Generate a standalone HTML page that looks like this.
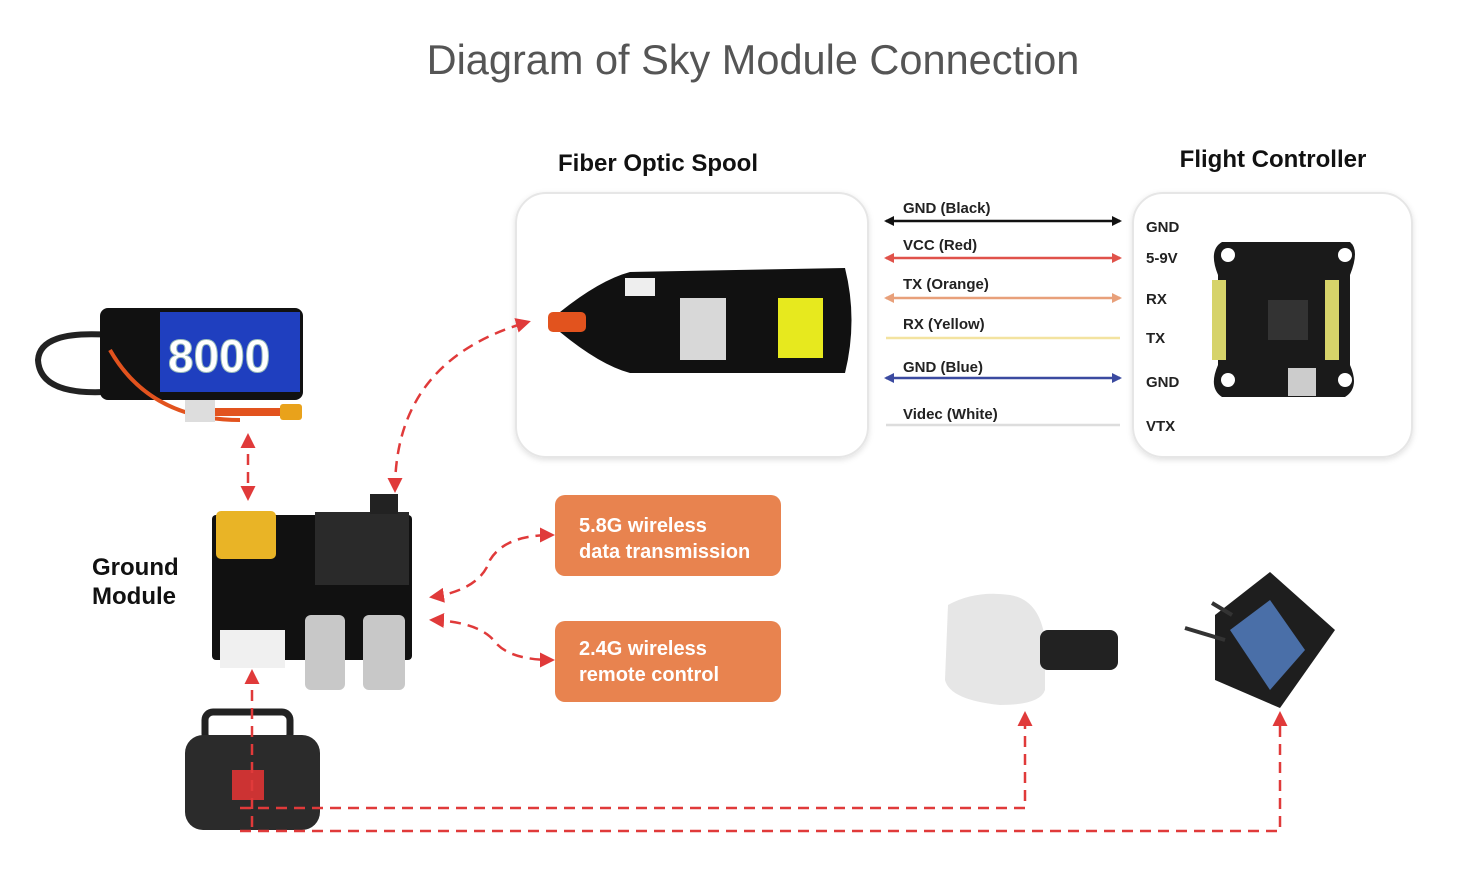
<!DOCTYPE html>
<html><head><meta charset="utf-8"><style>
html,body{margin:0;padding:0;background:#fff}
svg{display:block}
text{font-family:"Liberation Sans",sans-serif}
</style></head><body>
<svg width="1457" height="874" viewBox="0 0 1457 874" xmlns="http://www.w3.org/2000/svg">
<defs>
<marker id="ar" viewBox="0 0 10 10" refX="8" refY="5" markerWidth="6" markerHeight="6" orient="auto-start-reverse"><path d="M0,0L10,5L0,10z" fill="#e03a3a"/></marker>
<marker id="wk" viewBox="0 0 10 10" refX="8" refY="5" markerWidth="4" markerHeight="4" orient="auto-start-reverse"><path d="M0,0L10,5L0,10z" fill="#111"/></marker>
<marker id="wr" viewBox="0 0 10 10" refX="8" refY="5" markerWidth="4" markerHeight="4" orient="auto-start-reverse"><path d="M0,0L10,5L0,10z" fill="#e0524a"/></marker>
<marker id="wo" viewBox="0 0 10 10" refX="8" refY="5" markerWidth="4" markerHeight="4" orient="auto-start-reverse"><path d="M0,0L10,5L0,10z" fill="#e8a07a"/></marker>
<marker id="wb" viewBox="0 0 10 10" refX="8" refY="5" markerWidth="4" markerHeight="4" orient="auto-start-reverse"><path d="M0,0L10,5L0,10z" fill="#3b4aa0"/></marker>
<filter id="sh" x="-10%" y="-10%" width="120%" height="120%"><feDropShadow dx="0" dy="2" stdDeviation="3" flood-color="#000" flood-opacity="0.12"/></filter>
</defs>
<text x="753" y="74" text-anchor="middle" font-size="41.5" fill="#555">Diagram of Sky Module Connection</text>
<text x="658" y="171" text-anchor="middle" font-size="24" font-weight="bold" fill="#111">Fiber Optic Spool</text>
<text x="1273" y="167" text-anchor="middle" font-size="24" font-weight="bold" fill="#111">Flight Controller</text>
<rect x="516" y="193" width="352" height="264" rx="30" fill="#fff" stroke="#e6e6e6" stroke-width="2" filter="url(#sh)"/>
<rect x="1133" y="193" width="279" height="264" rx="30" fill="#fff" stroke="#e6e6e6" stroke-width="2" filter="url(#sh)"/>
<!-- spool -->
<path d="M560,312 Q600,280 630,272 L845,268 Q858,320 845,373 L630,373 Q600,365 560,332 Z" fill="#111"/>
<rect x="548" y="312" width="38" height="20" rx="5" fill="#e2531e"/>
<rect x="680" y="298" width="46" height="62" fill="#d8d8d8"/>
<rect x="778" y="298" width="45" height="60" fill="#e7e91e"/>
<rect x="625" y="278" width="30" height="18" fill="#eee"/>
<!-- wires -->
<g stroke-width="2.5">
<line x1="886" y1="221" x2="1120" y2="221" stroke="#111" marker-start="url(#wk)" marker-end="url(#wk)"/>
<line x1="886" y1="258" x2="1120" y2="258" stroke="#e0524a" marker-start="url(#wr)" marker-end="url(#wr)"/>
<line x1="886" y1="298" x2="1120" y2="298" stroke="#e8a07a" marker-start="url(#wo)" marker-end="url(#wo)"/>
<line x1="886" y1="338" x2="1120" y2="338" stroke="#f3e3a0"/>
<line x1="886" y1="378" x2="1120" y2="378" stroke="#3b4aa0" marker-start="url(#wb)" marker-end="url(#wb)"/>
<line x1="886" y1="425" x2="1120" y2="425" stroke="#ddd"/>
</g>
<g font-size="15" font-weight="bold" fill="#222">
<text x="903" y="213">GND  (Black)</text>
<text x="903" y="250">VCC  (Red)</text>
<text x="903" y="289">TX   (Orange)</text>
<text x="903" y="329">RX   (Yellow)</text>
<text x="903" y="372">GND   (Blue)</text>
<text x="903" y="419">Videc   (White)</text>
<text x="1146" y="232">GND</text>
<text x="1146" y="263">5-9V</text>
<text x="1146" y="304">RX</text>
<text x="1146" y="343">TX</text>
<text x="1146" y="387">GND</text>
<text x="1146" y="431">VTX</text>
</g>
<!-- FC board -->
<path d="M1222,242 H1350 Q1360,250 1350,275 V365 Q1360,388 1345,397 H1222 Q1208,388 1218,365 V275 Q1208,250 1222,242 Z" fill="#1a1a1a"/>
<g fill="#d6d36a"><rect x="1212" y="280" width="14" height="80"/><rect x="1325" y="280" width="14" height="80"/></g>
<rect x="1268" y="300" width="40" height="40" fill="#333"/>
<rect x="1288" y="368" width="28" height="28" fill="#ccc"/>
<g fill="#fff"><circle cx="1228" cy="255" r="7"/><circle cx="1345" cy="255" r="7"/><circle cx="1228" cy="380" r="7"/><circle cx="1345" cy="380" r="7"/></g>
<!-- battery -->
<path d="M110,335 Q40,330 38,360 Q40,395 105,392" fill="none" stroke="#222" stroke-width="6"/>
<rect x="100" y="308" width="203" height="92" rx="8" fill="#111"/>
<rect x="160" y="312" width="140" height="80" fill="#1f3fbf"/>
<text x="168" y="372" font-size="46" font-weight="bold" fill="#fff" stroke="#9bb" stroke-width="1">8000</text>
<path d="M110,350 Q150,420 240,420" fill="none" stroke="#e2531e" stroke-width="4"/>
<rect x="185" y="400" width="30" height="22" fill="#ddd"/>
<rect x="215" y="408" width="75" height="8" fill="#e2531e"/>
<rect x="280" y="404" width="22" height="16" rx="3" fill="#e9a21b"/>
<!-- ground module -->
<rect x="212" y="515" width="200" height="145" rx="4" fill="#111"/>
<rect x="216" y="511" width="60" height="48" rx="5" fill="#e9b426"/>
<rect x="315" y="512" width="94" height="73" fill="#2a2a2a"/>
<rect x="370" y="494" width="28" height="20" fill="#222"/>
<rect x="220" y="630" width="65" height="38" fill="#f0f0f0"/>
<rect x="305" y="615" width="40" height="75" rx="6" fill="#c8c8c8"/>
<rect x="363" y="615" width="42" height="75" rx="6" fill="#c8c8c8"/>
<text x="92" y="575" font-size="24" font-weight="bold" fill="#111">Ground</text>
<text x="92" y="604" font-size="24" font-weight="bold" fill="#111">Module</text>
<!-- orange boxes -->
<rect x="555" y="495" width="226" height="81" rx="10" fill="#e8834f"/>
<rect x="555" y="621" width="226" height="81" rx="10" fill="#e8834f"/>
<g font-size="20" font-weight="bold" fill="#fff">
<text x="579" y="532">5.8G wireless</text><text x="579" y="558">data transmission</text>
<text x="579" y="655">2.4G wireless</text><text x="579" y="681">remote control</text>
</g>
<!-- transmitter -->
<rect x="205" y="712" width="85" height="30" rx="8" fill="none" stroke="#222" stroke-width="7"/>
<rect x="185" y="735" width="135" height="95" rx="18" fill="#2b2b2b"/>
<rect x="232" y="770" width="32" height="30" fill="#c33"/>
<!-- goggles -->
<path d="M948,605 Q975,590 1010,595 Q1040,600 1045,640 V690 Q1040,705 1000,705 Q950,700 945,680 Z" fill="#e6e6e6"/>
<rect x="1040" y="630" width="78" height="40" rx="8" fill="#222"/>
<!-- monitor -->
<path d="M1215,615 L1270,572 L1335,630 L1280,708 L1215,680 Z" fill="#1e1e1e"/>
<path d="M1230,630 L1270,600 L1305,650 L1270,690 Z" fill="#4a6fa8"/>
<line x1="1185" y1="628" x2="1225" y2="640" stroke="#333" stroke-width="4"/>
<line x1="1212" y1="603" x2="1232" y2="615" stroke="#333" stroke-width="4"/>
<!-- dashed connectors -->
<g fill="none" stroke="#e03a3a" stroke-width="2.5" stroke-dasharray="11,7">
<line x1="248" y1="436" x2="248" y2="498" marker-start="url(#ar)" marker-end="url(#ar)"/>
<path d="M395,490 Q395,360 528,322" marker-start="url(#ar)" marker-end="url(#ar)"/>
<path d="M432,597 Q480,590 490,560 Q505,535 552,535" marker-start="url(#ar)" marker-end="url(#ar)"/>
<path d="M432,620 Q480,622 495,642 Q510,660 552,660" marker-start="url(#ar)" marker-end="url(#ar)"/>
<line x1="252" y1="672" x2="252" y2="830" marker-start="url(#ar)"/>
<path d="M240,808 H1025 V714" marker-end="url(#ar)"/>
<path d="M240,831 H1280 V714" marker-end="url(#ar)"/>
</g>
</svg>
</body></html>
